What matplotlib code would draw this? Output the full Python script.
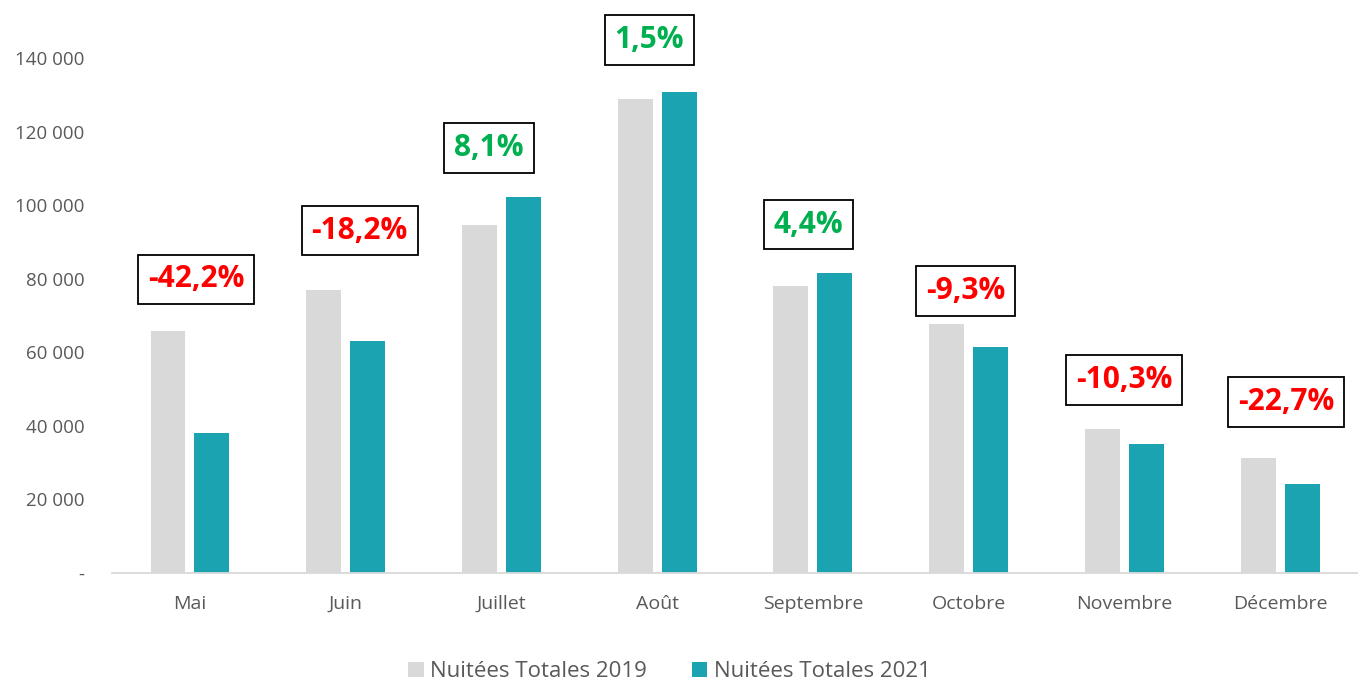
import matplotlib.pyplot as plt
import numpy as np
from matplotlib.ticker import FuncFormatter

# données
mois = ["Mai", "Juin", "Juillet", "Août", "Septembre", "Octobre", "Novembre", "Décembre"]
nuitees_2019 = [65800, 76900, 94600, 128800, 78000, 67700, 39100, 31300]
nuitees_2021 = [38000, 63000, 102200, 130700, 81500, 61400, 35100, 24200]
variations = ["-42,2%", "-18,2%", "8,1%", "1,5%", "4,4%", "-9,3%", "-10,3%", "-22,7%"]
yticks = [0, 20000, 40000, 60000, 80000, 100000, 120000, 140000]

# placement des étiquettes (décalage horizontal / au-dessus de la plus haute barre)
dx_etiq = [0.04, 0.09, -0.08, -0.05, -0.03, -0.02, 0.0, 0.04]
dy_etiq = [14000, 16200, 13300, 14200, 13200, 9000, 13400, 15200]

gris = "#D9D9D9"
bleu = "#1BA3B1"
texte = "#595959"

plt.rcParams['font.family'] = ['Open Sans', 'DejaVu Sans']

fig = plt.figure(figsize=(13.58, 6.84), dpi=100)
ax = fig.add_axes([0.0825, 0.1623, 0.9175, 0.7529])

x = np.arange(len(mois))
w = 0.224
ax.bar(x - 0.141, nuitees_2019, w, color=gris, label="Nuitées Totales 2019")
ax.bar(x + 0.141, nuitees_2021, w, color=bleu, label="Nuitées Totales 2021")

for i, v in enumerate(variations):
    col = "#FF0000" if v.startswith("-") else "#00B050"
    top = max(nuitees_2019[i], nuitees_2021[i])
    ax.text(x[i] + dx_etiq[i], top + dy_etiq[i], v, ha="center", va="center", fontsize=21.5,
            fontweight="bold", color=col, clip_on=False,
            bbox=dict(boxstyle="square,pad=0.33", fc="white", ec="black", lw=1.3))

ax.set_xlim(-0.5, len(mois) - 0.5)
ax.set_ylim(0, 140000)
ax.set_yticks(yticks)
ax.yaxis.set_major_formatter(FuncFormatter(
    lambda v, p: "-" if v == 0 else f"{int(v):,}".replace(",", " ")))
ax.set_xticks(x)
ax.set_xticklabels(mois)
ax.tick_params(axis="both", length=0, colors=texte, labelsize=14)
ax.tick_params(axis="x", pad=16)
ax.tick_params(axis="y", pad=20, labelsize=13.5)

for s in ["top", "right", "left"]:
    ax.spines[s].set_visible(False)
ax.spines["bottom"].set_color(gris)
ax.spines["bottom"].set_linewidth(1.3)

fig.legend(loc="lower center", bbox_to_anchor=(0.493, -0.027), ncol=2, frameon=False,
           fontsize=16, labelcolor=texte, handlelength=0.7, handleheight=0.7,
           handletextpad=0.3, columnspacing=2.0)

fig.savefig("out.png", dpi=100)
